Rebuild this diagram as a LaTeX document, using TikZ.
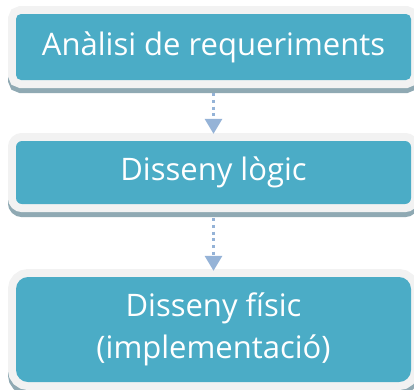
\documentclass[tikz,border=0pt]{standalone}
\usepackage{fontspec}
\setmainfont{Open Sans}
\usetikzlibrary{arrows.meta}
\definecolor{boxteal}{HTML}{4BACC6}
\definecolor{boxframe}{HTML}{F2F2F2}
\definecolor{boxshadow}{HTML}{8FA9B3}
\definecolor{flowblue}{HTML}{95B3D7}
\tikzset{
    stepnode/.style = {rectangle, fill=boxteal, text=white, align=center, inner sep=0pt, minimum width=395pt,
        font=\fontsize{31}{42}\selectfont,
        preaction={draw=boxshadow, line width=16pt, transform canvas={yshift=-5pt}}, % shadow
        preaction={draw=boxframe, line width=16pt}}, % frame
    flow/.style = {draw=flowblue, line width=3pt, dash pattern=on 3pt off 3.7pt,
        -{Triangle[width=17pt,length=15pt]}}
}

\begin{document}
\begin{tikzpicture}[x=1pt,y=-1pt]
\useasboundingbox (0,0) rectangle (414,389);

\node[stepnode, minimum height=66pt, rounded corners=5pt] at (213.5, 47.0) (analisi) {Anàlisi de requeriments};
\node[stepnode, minimum height=63pt, rounded corners=6pt] at (213.5,172.5) (logic) {Disseny lògic};
\node[stepnode, minimum height=105pt, rounded corners=12pt] at (213.5,329.5) (fisic) {Disseny físic\\(implementació)};

\draw[flow, shorten <=13pt, shorten >=7pt] (analisi) -- (logic);
\draw[flow, shorten <=14pt, shorten >=6pt] (logic) -- (fisic);

\end{tikzpicture}
\end{document}
